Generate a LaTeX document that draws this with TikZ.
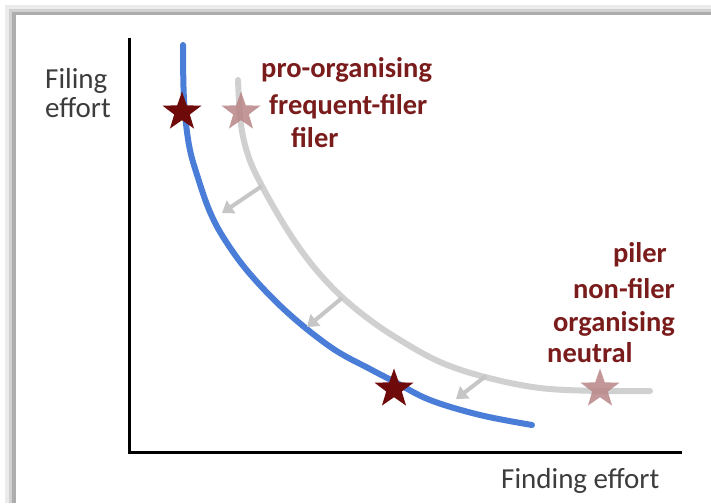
\documentclass[tikz,border=0pt]{standalone}
\usepackage{fontspec}
\setmainfont{Carlito}
\usetikzlibrary{shapes.geometric,arrows.meta}
\definecolor{starred}{HTML}{6E0A0A}
\definecolor{starpink}{HTML}{B98585}
\definecolor{labred}{HTML}{7A1C1C}
\definecolor{curveblue}{HTML}{4A7DD8}
\definecolor{curvegray}{HTML}{D0D0D0}
\definecolor{arrowgray}{HTML}{C6C6C6}
\definecolor{axlabel}{HTML}{3C3C3C}
\tikzset{
  starbig/.style={shape=star, star points=5, star point ratio=2.5, minimum size=41pt, inner sep=0pt, draw=none},
  redlab/.style={text=labred, font=\fontsize{28.5}{30}\selectfont\bfseries, inner sep=0pt},
  axlab/.style={text=axlabel, font=\fontsize{29}{29}\selectfont, inner sep=0pt},
  movearrow/.style={draw=arrowgray, line width=4pt, -{Triangle[length=11pt,width=15pt]}},
}
\begin{document}
\begin{tikzpicture}[x=1pt,y=-1pt]
\useasboundingbox (0,0) rectangle (711,503);
% panel with shadow
\fill[white] (0,0) rectangle (711,503);
\fill[black!8] (5,5) rectangle (711,503);
\fill[black!18] (9,9) rectangle (711,503);
\fill[black!32] (12,12) rectangle (711,503);
\fill[white] (16,15) rectangle (711,503);
% axes
\coordinate (ytop) at (129,38);
\coordinate (origin) at (129,452);
\coordinate (xend) at (682,452);
\draw[line width=3pt] (ytop) -- (origin) -- (xend);
% gray curve
\draw[curvegray, line width=6pt, line cap=round] plot[smooth, tension=0.6] coordinates {
 (238,80) (241,125) (249,158) (262,186) (280,218) (298,246) (318,272) (342,297)
 (370,320) (400,340) (440,362) (485,377) (540,388) (600,391) (650,391)};
% blue curve
\draw[curveblue, line width=6pt, line cap=round] plot[smooth, tension=0.6] coordinates {
 (183,45) (184,100) (189,145) (198,178) (210,212) (225,240) (250,274) (288,313)
 (332,348) (370,369) (395,382) (430,400) (480,415) (532,425)};
% arrows
\coordinate (a1s) at (262,186); \coordinate (a1e) at (222,213);
\coordinate (a2s) at (342,298); \coordinate (a2e) at (307,327);
\coordinate (a3s) at (486,376); \coordinate (a3e) at (456,399);
\draw[movearrow] (a1s) -- (a1e);
\draw[movearrow] (a2s) -- (a2e);
\draw[movearrow] (a3s) -- (a3e);
% stars
\node[starbig, fill=starred] (s1) at (182,112) {};
\node[starbig, fill=starpink, fill opacity=0.85] (s2) at (241,112) {};
\node[starbig, fill=starred] (s3) at (394,389) {};
\node[starbig, fill=starpink, fill opacity=0.85] (s4) at (600,389) {};
% labels
\node[axlab, anchor=base west] (yl1) at (45,88) {Filing};
\node[axlab, anchor=base west] (yl2) at (45,117) {effort};
\node[axlab, anchor=base west] (xl) at (501,488) {Finding effort};
\node[redlab, anchor=base west] (t1) at (261,77) {pro-organising};
\node[redlab, anchor=base west] (t2) at (269,114) {frequent-filer};
\node[redlab, anchor=base west] (t3) at (291,147) {filer};
\node[redlab, anchor=base east] (t4) at (667,262) {piler};
\node[redlab, anchor=base east] (t5) at (675,298) {non-filer};
\node[redlab, anchor=base east] (t6) at (675,331) {organising};
\node[redlab, anchor=base west] (t7) at (547,362) {neutral};
\end{tikzpicture}
\end{document}
